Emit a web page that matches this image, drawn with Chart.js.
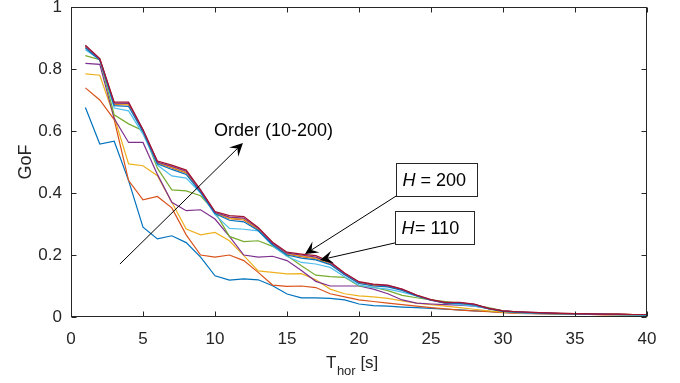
<!DOCTYPE html>
<html><head><meta charset="utf-8">
<script src="https://cdn.jsdelivr.net/npm/chart.js@4.4.1/dist/chart.umd.min.js"></script>
<style>html,body{margin:0;padding:0;background:#fff;}#wrap{width:680px;height:383px;}</style>
</head><body><div id="wrap"><canvas id="c" width="680" height="383"></canvas></div>
<script>
// ---- data ----
const tHor = [1,2,3,4,5,6,7,8,9,10,11,12,13,14,15,16,17,18,19,20,21,22,23,24,25,26,27,28,29,30,31,32,33,34,35,36,37,38,39,40];
const xTickValues = [0,5,10,15,20,25,30,35,40];
const yTickValues = [0,0.2,0.4,0.6,0.8,1];
const gof1 = [0.676,0.558,0.567,0.44,0.29,0.252,0.262,0.24,0.193,0.133,0.119,0.123,0.12,0.101,0.074,0.062,0.062,0.06,0.055,0.042,0.037,0.035,0.032,0.03,0.028,0.025,0.023,0.02,0.018,0.015,0.013,0.012,0.011,0.01,0.01,0.009,0.008,0.008,0.007,0.007];
const gof2 = [0.739,0.70,0.637,0.44,0.378,0.389,0.352,0.265,0.2,0.193,0.2,0.182,0.144,0.103,0.099,0.1,0.095,0.075,0.065,0.055,0.05,0.045,0.04,0.035,0.03,0.026,0.022,0.02,0.017,0.014,0.012,0.011,0.01,0.009,0.008,0.008,0.007,0.007,0.006,0.006];
const gof3 = [0.784,0.78,0.645,0.494,0.488,0.456,0.37,0.284,0.265,0.273,0.246,0.198,0.149,0.144,0.139,0.14,0.12,0.09,0.075,0.068,0.065,0.06,0.052,0.045,0.04,0.035,0.03,0.025,0.02,0.016,0.013,0.012,0.011,0.01,0.009,0.008,0.008,0.007,0.007,0.006];
const gof4 = [0.818,0.815,0.64,0.563,0.563,0.46,0.37,0.343,0.346,0.316,0.26,0.2,0.193,0.196,0.182,0.15,0.115,0.1,0.1,0.1,0.09,0.075,0.055,0.045,0.042,0.04,0.038,0.035,0.028,0.02,0.016,0.013,0.012,0.011,0.01,0.009,0.008,0.008,0.007,0.007];
const gof5 = [0.843,0.83,0.652,0.623,0.601,0.48,0.41,0.407,0.391,0.339,0.26,0.243,0.246,0.228,0.198,0.165,0.135,0.13,0.128,0.1,0.096,0.085,0.07,0.062,0.055,0.05,0.045,0.038,0.03,0.02,0.016,0.013,0.012,0.011,0.01,0.009,0.008,0.008,0.007,0.007];
const gof6 = [0.862,0.83,0.674,0.665,0.59,0.49,0.455,0.448,0.40,0.33,0.286,0.283,0.278,0.23,0.195,0.176,0.171,0.16,0.13,0.103,0.095,0.09,0.08,0.068,0.055,0.045,0.04,0.035,0.028,0.018,0.014,0.012,0.011,0.01,0.009,0.008,0.008,0.007,0.007,0.006];
const gof7 = [0.877,0.834,0.693,0.693,0.605,0.503,0.49,0.474,0.41,0.34,0.327,0.324,0.289,0.241,0.209,0.203,0.198,0.178,0.142,0.114,0.106,0.103,0.09,0.071,0.056,0.047,0.047,0.042,0.028,0.02,0.017,0.015,0.013,0.012,0.011,0.01,0.009,0.009,0.008,0.008];
const gof8 = [0.868,0.829,0.682,0.679,0.598,0.494,0.476,0.46,0.402,0.334,0.312,0.307,0.279,0.233,0.2,0.19,0.184,0.169,0.136,0.108,0.1,0.097,0.086,0.068,0.054,0.045,0.044,0.039,0.026,0.018,0.015,0.013,0.012,0.011,0.01,0.009,0.009,0.008,0.008,0.007];
const gof9 = [0.871,0.83,0.686,0.684,0.6,0.497,0.481,0.465,0.404,0.336,0.317,0.313,0.282,0.235,0.203,0.195,0.188,0.172,0.138,0.11,0.102,0.099,0.087,0.069,0.054,0.045,0.045,0.04,0.027,0.019,0.016,0.014,0.012,0.011,0.01,0.01,0.009,0.009,0.008,0.008];
const gof10 = [0.872,0.831,0.688,0.686,0.601,0.498,0.483,0.467,0.405,0.337,0.319,0.316,0.284,0.236,0.204,0.197,0.19,0.173,0.139,0.111,0.103,0.1,0.088,0.07,0.055,0.046,0.045,0.04,0.027,0.019,0.016,0.014,0.013,0.012,0.011,0.01,0.009,0.009,0.008,0.008];
const gof11 = [0.874,0.832,0.69,0.689,0.603,0.5,0.486,0.47,0.407,0.338,0.322,0.319,0.286,0.238,0.206,0.2,0.193,0.175,0.14,0.112,0.104,0.101,0.089,0.07,0.055,0.046,0.046,0.041,0.028,0.02,0.017,0.015,0.013,0.012,0.011,0.01,0.009,0.009,0.008,0.008];
const seriesList = [gof1,gof2,gof3,gof4,gof5,gof6,gof7,gof8,gof9,gof10,gof11];
const seriesLabels = ['Order 1','Order 2','Order 3','Order 4','Order 5','Order 6','Order 7','Order 8','Order 9','Order 10','Order 11'];
const drawOrder = [10,9,8,7,6,5,0,2,4,3,1];
const palette = ['#0072BD','#D95319','#EDB120','#7E2F8E','#77AC30','#4DBEEE','#A2142F'];

// annotations (data coordinates)
const orderArrow = {from:[3.4,0.171], to:[11.94,0.561], text:'Order (10-200)', textAt:[9.93,0.6]};
const hBoxes = [
  {label:'= 200', box:[22.57,0.497,28.19,0.39], tail:[22.57,0.39], tip:[16.25,0.203], tight:false},
  {label:'= 110', box:[22.5,0.342,27.99,0.235], tail:[22.5,0.239], tip:[17.29,0.184], tight:true}
];

const FONT = '"Liberation Sans", Arial, Helvetica, sans-serif';
const INK = '#262626';

function drawArrow(ctx, x1, y1, x2, y2) {
  const dx = x2 - x1, dy = y2 - y1, len = Math.hypot(dx, dy);
  const ux = dx/len, uy = dy/len, nx = -uy, ny = ux;
  const L = 13, W = 6.5;
  ctx.beginPath();
  ctx.moveTo(x1, y1);
  ctx.lineTo(x2 - ux*L*0.6, y2 - uy*L*0.6);
  ctx.stroke();
  ctx.beginPath();
  ctx.moveTo(x2, y2);
  ctx.lineTo(x2 - ux*L + nx*W, y2 - uy*L + ny*W);
  ctx.lineTo(x2 - ux*L*0.6, y2 - uy*L*0.6);
  ctx.lineTo(x2 - ux*L - nx*W, y2 - uy*L - ny*W);
  ctx.closePath();
  ctx.fill();
}

const matlabPlugin = {
  id: 'matlabLook',
  afterDatasetsDraw(chart) {
    const ctx = chart.ctx, a = chart.chartArea;
    const xs = chart.scales.x, ys = chart.scales.y;
    ctx.save();
    ctx.strokeStyle = INK; ctx.lineWidth = 1;
    const L = Math.round(a.left)+0.5, T = Math.round(a.top)+0.5, R = Math.round(a.right)-0.5, B = Math.round(a.bottom)-0.5;
    ctx.strokeRect(L, T, R - L, B - T);
    ctx.beginPath();
    xTickValues.forEach(v => {
      const px = Math.round(xs.getPixelForValue(v)) + 0.5;
      ctx.moveTo(px, B); ctx.lineTo(px, B - 5);
      ctx.moveTo(px, T); ctx.lineTo(px, T + 5);
    });
    yTickValues.forEach(v => {
      const py = Math.round(ys.getPixelForValue(v)) + 0.5;
      ctx.moveTo(L, py); ctx.lineTo(L + 5, py);
      ctx.moveTo(R, py); ctx.lineTo(R - 5, py);
    });
    ctx.stroke();

    // axis titles
    ctx.fillStyle = INK;
    ctx.textBaseline = 'alphabetic';
    ctx.textAlign = 'left';
    ctx.font = '17px ' + FONT;
    const tW = ctx.measureText('T').width;
    ctx.font = '13px ' + FONT;
    const subW = ctx.measureText('hor').width;
    const x0 = 326, base = 368;
    ctx.font = '17px ' + FONT;
    ctx.fillText('T', x0, base);
    ctx.font = '13px ' + FONT;
    ctx.fillText('hor', x0 + tW + 0.5, base + 7);
    ctx.font = '17px ' + FONT;
    ctx.fillText(' [s]', x0 + tW + subW + 0.5, base);

    ctx.save();
    ctx.translate(30.5, (a.top + a.bottom)/2);
    ctx.rotate(-Math.PI/2);
    ctx.textAlign = 'center';
    ctx.font = '18px ' + FONT;
    ctx.fillText('GoF', 0, 0);
    ctx.restore();

    // annotations
    ctx.strokeStyle = '#000'; ctx.fillStyle = '#000'; ctx.lineWidth = 1;
    drawArrow(ctx, xs.getPixelForValue(orderArrow.from[0]), ys.getPixelForValue(orderArrow.from[1]),
                   xs.getPixelForValue(orderArrow.to[0]), ys.getPixelForValue(orderArrow.to[1]));
    ctx.font = '18px ' + FONT;
    ctx.textBaseline = 'middle'; ctx.textAlign = 'left';
    ctx.fillText(orderArrow.text, xs.getPixelForValue(orderArrow.textAt[0]), ys.getPixelForValue(orderArrow.textAt[1]));

    hBoxes.forEach(h => {
      const l = Math.round(xs.getPixelForValue(h.box[0])) + 0.5, t = Math.round(ys.getPixelForValue(h.box[1])) + 0.5;
      const r = Math.round(xs.getPixelForValue(h.box[2])) + 0.5, b = Math.round(ys.getPixelForValue(h.box[3])) + 0.5;
      ctx.strokeStyle = '#000'; ctx.fillStyle = '#000';
      drawArrow(ctx, xs.getPixelForValue(h.tail[0]), ys.getPixelForValue(h.tail[1]),
                     xs.getPixelForValue(h.tip[0]), ys.getPixelForValue(h.tip[1]));
      ctx.fillStyle = '#fff';
      ctx.fillRect(l, t, r - l, b - t);
      ctx.strokeStyle = INK;
      ctx.strokeRect(l, t, r - l, b - t);
      ctx.fillStyle = '#000';
      ctx.textBaseline = 'middle';
      ctx.font = 'italic 18px ' + FONT;
      const hx = l + 6, cy = (t + b)/2 + 1;
      ctx.fillText('H', hx, cy);
      const hw = ctx.measureText('H').width;
      ctx.font = '18px ' + FONT;
      ctx.fillText(h.tight ? h.label : ' ' + h.label, hx + hw + (h.tight ? 0.5 : 0), cy);
    });
    ctx.restore();
  }
};

const datasets = seriesList.map((vals, i) => ({
  label: seriesLabels[i],
  data: vals.map((v, j) => ({x: tHor[j], y: v})),
  borderColor: palette[i % palette.length],
  backgroundColor: palette[i % palette.length],
  borderWidth: 1.2,
  pointRadius: 0,
  fill: false,
  tension: 0,
  order: drawOrder[i]
}));

new Chart(document.getElementById('c'), {
  type: 'line',
  data: { datasets },
  options: {
    responsive: false,
    animation: false,
    devicePixelRatio: 1,
    layout: { padding: { top: 7, right: 33, left: 0, bottom: 0 } },
    plugins: { legend: { display: false }, tooltip: { enabled: false } },
    scales: {
      x: {
        type: 'linear', min: 0, max: 40,
        afterBuildTicks: s => { s.ticks = xTickValues.map(v => ({value: v})); },
        afterFit: s => { s.height = 66; s.paddingLeft = 0; s.paddingRight = 0; },
        grid: { display: false, drawTicks: false },
        border: { display: false },
        ticks: { color: INK, font: { family: FONT, size: 17 }, padding: 12, maxRotation: 0, autoSkip: false, callback: v => String(v) }
      },
      y: {
        type: 'linear', min: 0, max: 1,
        afterBuildTicks: s => { s.ticks = yTickValues.map(v => ({value: v})); },
        afterFit: s => { s.width = 71; s.paddingTop = 0; s.paddingBottom = 0; },
        grid: { display: false, drawTicks: false },
        border: { display: false },
        ticks: { color: INK, font: { family: FONT, size: 17 }, padding: 9, autoSkip: false, callback: v => String(v) }
      }
    }
  },
  plugins: [matlabPlugin]
});
</script>
</body></html>
